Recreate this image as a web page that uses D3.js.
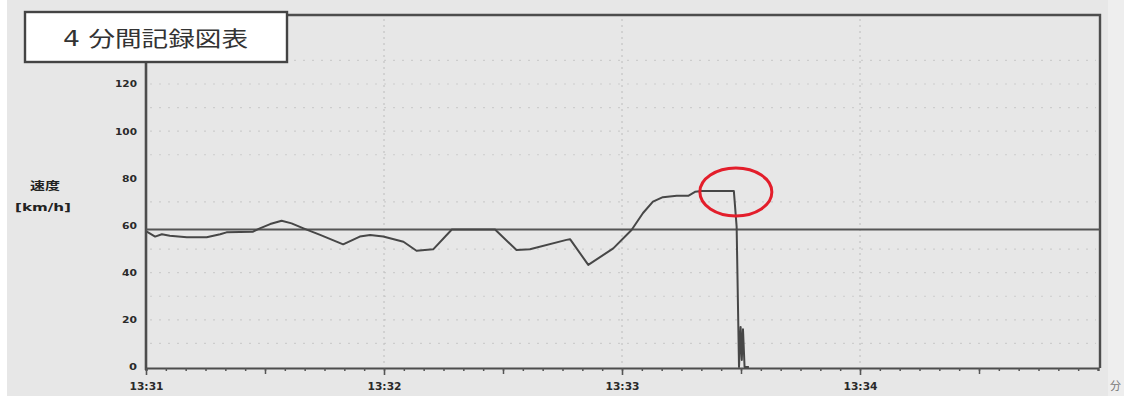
<!DOCTYPE html>
<html>
<head>
<meta charset="utf-8">
<script src="https://cdn.jsdelivr.net/npm/d3@7/dist/d3.min.js"></script>
<style>
  html, body { margin: 0; padding: 0; background: #ffffff; }
  svg { display: block; }
  text { font-family: "DejaVu Sans", "Noto Sans CJK JP", sans-serif; }
</style>
</head>
<body>
<script>
// ---- data ----
const title = "4 分間記録図表";
const yLabel1 = "速度";
const yLabel2 = "[km/h]";
const unitLabel = "分";
// seconds after 13:31:00
const seconds = [0.2, 2.3, 4.0, 6.0, 10.3, 15.3, 18.7, 20.3, 27.0, 28.7, 31.3, 34.2, 36.7, 39.7,
  43.9, 49.7, 53.9, 56.5, 59.8, 64.9, 68.2, 72.4, 77.1, 88.0, 93.4, 96.8, 106.0, 106.9,
  111.5, 117.8, 122.4, 125.3, 127.8, 130.3, 133.8, 136.7, 138.4, 140.1, 148.2, 148.9,
  149.5, 149.9, 150.2, 150.5, 150.9, 152.0];
const speed = [57.4, 55.3, 56.3, 55.7, 55.0, 55.0, 56.3, 57.1, 57.4, 58.8, 60.6, 62.0, 60.9, 58.8,
  56.0, 52.0, 55.3, 56.0, 55.3, 53.1, 49.3, 49.9, 58.3, 58.3, 49.6, 49.9, 53.9, 54.2,
  43.3, 50.3, 58.1, 65.3, 70.1, 72.0, 72.6, 72.6, 74.3, 74.6, 74.6, 59.5,
  0, 17, 3, 16, 0, 0];
const speedLimit = 58.3;
const yTicks = [0, 20, 40, 60, 80, 100, 120];
const xTickSeconds = [0, 60, 120, 180];
const xTickLabels = ["13:31", "13:32", "13:33", "13:34"];
const gridValues = [10, 20, 30, 40, 50, 70, 90, 100, 110, 120, 130];
const markSecond = 148.2, markSpeed = 74.6; // circled point

// ---- layout ----
const W = 1124, H = 396;
const svg = d3.select("body").append("svg").attr("width", W).attr("height", H);

// background (scan tone)
svg.append("rect").attr("x", 7).attr("y", 0).attr("width", W - 7).attr("height", H).attr("fill", "#e7e7e7");
svg.append("rect").attr("x", 1108).attr("y", 0).attr("width", 16).attr("height", H).attr("fill", "#eeeeee");

const x = d3.scaleLinear().domain([0, 240]).range([146, 1098]);
const y = d3.scaleLinear().domain([0, 120]).range([367, 84]);
const plotTop = 15, plotRight = 1100, plotBottom = 368, axisTop = 62;

// faint dotted grid
const grid = svg.append("g");
grid.selectAll("line.h").data(gridValues).join("line")
  .attr("x1", x(0) + 4).attr("x2", plotRight - 4)
  .attr("y1", d => y(d)).attr("y2", d => y(d))
  .attr("stroke", "#cdcdcd").attr("stroke-width", 1.2).attr("stroke-dasharray", "2,7");
grid.selectAll("line.v").data(xTickSeconds.slice(1)).join("line")
  .attr("x1", d => x(d)).attr("x2", d => x(d))
  .attr("y1", plotTop + 4).attr("y2", plotBottom - 4)
  .attr("stroke", "#c4c4c4").attr("stroke-width", 1.2).attr("stroke-dasharray", "2,4");

// frame
svg.append("path")
  .attr("d", `M287,${plotTop}H${plotRight}V${plotBottom}`)
  .attr("fill", "none").attr("stroke", "#4d4d4d").attr("stroke-width", 2.4);
svg.append("line").attr("x1", x(0)).attr("x2", x(0)).attr("y1", axisTop).attr("y2", plotBottom + 2)
  .attr("stroke", "#4d4d4d").attr("stroke-width", 2.6);

// bottom axis: minor ticks every 5 s
const minor = d3.range(0, 241, 5);
svg.append("g").attr("transform", `translate(0,${plotBottom})`)
  .call(d3.axisBottom(x).tickValues(minor).tickSize(3).tickFormat(""))
  .call(g => g.select(".domain").attr("stroke", "#4d4d4d").attr("stroke-width", 2.2))
  .call(g => g.selectAll(".tick line").attr("stroke", "#555").attr("stroke-width", 1.5));
svg.append("g").attr("transform", `translate(0,${plotBottom})`)
  .call(d3.axisBottom(x).tickValues(d3.range(30, 240, 60)).tickSize(6).tickFormat(""))
  .call(g => g.select(".domain").remove())
  .call(g => g.selectAll(".tick line").attr("stroke", "#555").attr("stroke-width", 1.5));
svg.append("g").attr("transform", `translate(0,${plotBottom})`)
  .call(d3.axisBottom(x).tickValues(xTickSeconds).tickSize(7).tickPadding(8)
    .tickFormat((d, i) => xTickLabels[i]))
  .call(g => g.select(".domain").remove())
  .call(g => g.selectAll(".tick line").attr("stroke", "#555").attr("stroke-width", 1.6))
  .call(g => g.selectAll(".tick text").attr("fill", "#2a2a2a").attr("font-size", 10)
    .attr("font-weight", "bold").attr("textLength", 34).attr("lengthAdjust", "spacingAndGlyphs"));

// left axis labels
svg.append("g").attr("transform", `translate(${x(0)},0)`)
  .call(d3.axisLeft(y).tickValues(yTicks).tickSize(0).tickPadding(9))
  .call(g => g.select(".domain").remove())
  .call(g => g.selectAll(".tick text").attr("fill", "#2a2a2a").attr("font-size", 9)
    .attr("font-weight", "bold").attr("textLength", d => d >= 100 ? 22 : d === 0 ? 8 : 15)
    .attr("lengthAdjust", "spacingAndGlyphs"));

// y label
svg.append("text").attr("x", 45).attr("y", 190).attr("text-anchor", "middle")
  .attr("font-size", 11).attr("font-weight", "bold").attr("fill", "#222")
  .attr("textLength", 30).attr("lengthAdjust", "spacingAndGlyphs").text(yLabel1);
svg.append("text").attr("x", 43).attr("y", 211).attr("text-anchor", "middle")
  .attr("font-size", 10).attr("font-weight", "bold").attr("fill", "#222")
  .attr("textLength", 56).attr("lengthAdjust", "spacingAndGlyphs").text(yLabel2);

// speed limit line
svg.append("line").attr("x1", x(0)).attr("x2", plotRight)
  .attr("y1", y(speedLimit)).attr("y2", y(speedLimit))
  .attr("stroke", "#555").attr("stroke-width", 1.8);

// speed trace
const pts = seconds.map((s, i) => [s, speed[i]]);
svg.append("path").datum(pts)
  .attr("d", d3.line().x(d => x(d[0])).y(d => y(d[1])))
  .attr("fill", "none").attr("stroke", "#474747").attr("stroke-width", 2)
  .attr("stroke-linejoin", "round");

// red circle annotation
svg.append("ellipse").attr("cx", x(markSecond) + 2).attr("cy", y(markSpeed) + 1)
  .attr("rx", 36).attr("ry", 24)
  .attr("fill", "none").attr("stroke", "#e31e2b").attr("stroke-width", 3);

// title box
svg.append("rect").attr("x", 25).attr("y", 12).attr("width", 262).attr("height", 50)
  .attr("fill", "#ffffff").attr("stroke", "#444").attr("stroke-width", 2.4);
svg.append("text").attr("x", 63).attr("y", 46)
  .attr("font-size", 21).attr("fill", "#333")
  .attr("textLength", 185).attr("lengthAdjust", "spacingAndGlyphs").text(title);

// unit glyph at right edge
svg.append("text").attr("x", 1110).attr("y", 390)
  .attr("font-size", 11).attr("fill", "#777").text(unitLabel);
</script>
</body>
</html>
